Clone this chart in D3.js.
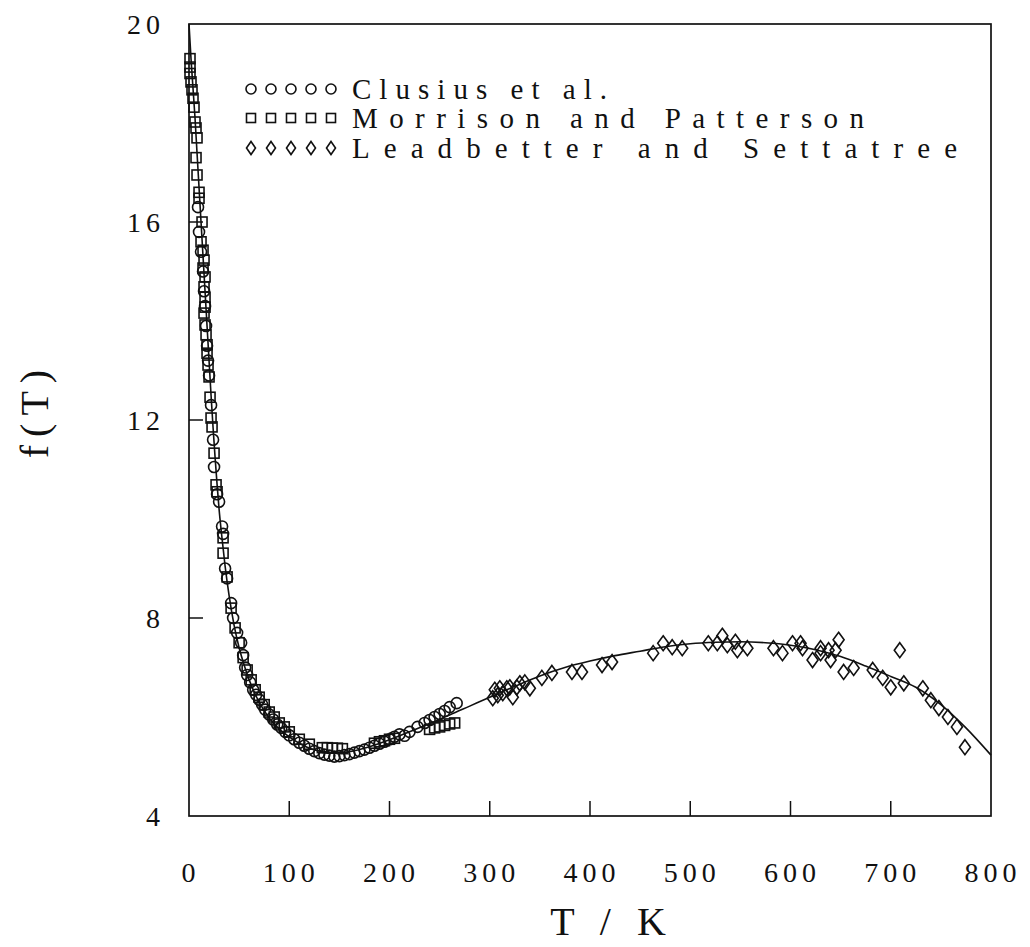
<!DOCTYPE html>
<html>
<head>
<meta charset="utf-8">
<script src="https://cdn.jsdelivr.net/npm/d3@7"></script>
<style>
  body { margin: 0; background: #fff; }
  text { font-family: "Liberation Serif", "DejaVu Serif", serif; fill: #111; }
</style>
</head>
<body>
<div id="chart"></div>
<script>
// fitted curve f(T)
const curve_T = [0, 2, 4, 6, 8, 10, 12, 14, 16, 18, 20, 22, 24, 26, 28, 30, 33, 36, 40, 45, 50, 55, 60, 70, 80, 90, 100, 110, 120, 130, 140, 150, 160, 180, 200, 220, 240, 260, 280, 300, 325, 350, 375, 400, 425, 450, 475, 500, 525, 550, 575, 600, 625, 650, 675, 700, 725, 750, 775, 800];
const curve_f = [20, 19.3, 18.7, 18.1, 17.4, 16.7, 16.0, 15.3, 14.6, 13.9, 13.2, 12.5, 11.85, 11.25, 10.7, 10.2, 9.6, 9.05, 8.45, 7.85, 7.4, 7.05, 6.75, 6.3, 5.98, 5.76, 5.6, 5.47, 5.37, 5.31, 5.28, 5.28, 5.3, 5.4, 5.54, 5.7, 5.87, 6.04, 6.22, 6.4, 6.62, 6.83, 7.0, 7.13, 7.24, 7.33, 7.42, 7.48, 7.51, 7.52, 7.5, 7.45, 7.36, 7.22, 7.03, 6.82, 6.6, 6.25, 5.78, 5.23];

// Clusius et al. (circles)
const clusius_T = [9, 10, 12, 14, 15, 16, 17, 18, 19, 20, 22, 24, 25, 28, 30, 33, 34, 36, 38, 42, 44, 48, 52, 54, 56, 58, 61, 64, 67, 70, 73, 76, 80, 84, 88, 92, 96, 100, 105, 110, 115, 120, 125, 130, 135, 140, 145, 150, 155, 160, 165, 170, 175, 180, 185, 190, 195, 200, 205, 210, 215, 220, 228, 235, 240, 245, 250, 255, 260, 267];
const clusius_f = [16.3, 15.8, 15.4, 15.0, 14.6, 14.3, 13.9, 13.5, 13.2, 12.9, 12.3, 11.6, 11.05, 10.5, 10.35, 9.85, 9.7, 9.0, 8.8, 8.3, 8.0, 7.7, 7.5, 7.25, 7.0, 6.85, 6.7, 6.55, 6.45, 6.35, 6.25, 6.15, 6.05, 5.95, 5.85, 5.78, 5.7, 5.63, 5.55, 5.48, 5.42, 5.36, 5.31, 5.27, 5.24, 5.22, 5.2, 5.21, 5.23, 5.25, 5.28, 5.31, 5.34, 5.38, 5.42, 5.46, 5.5, 5.55, 5.6, 5.65, 5.62, 5.7, 5.8, 5.88, 5.94, 6.0, 6.06, 6.12, 6.2, 6.28];

// Morrison and Patterson (squares)
const morrison_T = [1, 1, 1, 2, 3, 4, 5, 6, 7, 8, 7, 8, 10, 10, 13, 12, 14, 15, 14, 16, 15, 16, 16, 15, 16, 17, 18, 18, 19, 20, 21, 22, 23, 25, 27, 28, 34, 34, 38, 42, 46, 50, 54, 58, 62, 66, 70, 75, 80, 85, 90, 95, 100, 110, 120, 133, 138, 143, 148, 153, 185, 190, 195, 200, 205, 240, 245, 250, 255, 260, 265];
const morrison_f = [19.3, 19.13, 19.0, 18.83, 18.67, 18.5, 18.32, 18.02, 17.9, 17.7, 17.3, 16.95, 16.6, 16.48, 16.0, 15.6, 15.43, 15.23, 15.07, 14.89, 14.69, 14.48, 14.28, 14.16, 13.92, 13.72, 13.52, 13.35, 13.11, 12.87, 12.46, 12.04, 11.86, 11.33, 10.69, 10.55, 9.62, 9.31, 8.83, 8.2, 7.8, 7.5, 7.2, 6.95, 6.75, 6.55, 6.4, 6.25, 6.1, 6.0, 5.88, 5.8, 5.7, 5.55, 5.45, 5.38, 5.38, 5.37, 5.37, 5.36, 5.47, 5.5, 5.52, 5.55, 5.57, 5.75, 5.78, 5.8, 5.83, 5.86, 5.88];

// Leadbetter and Settatree (diamonds)
const leadbetter_T = [303, 305, 308, 310, 313, 317, 320, 323, 327, 330, 335, 340, 352, 362, 382, 392, 412, 422, 463, 473, 482, 492, 518, 527, 532, 537, 545, 547, 557, 583, 592, 602, 610, 612, 622, 630, 630, 638, 640, 645, 648, 653, 663, 682, 692, 700, 709, 713, 732, 740, 748, 757, 766, 774];
const leadbetter_f = [6.38, 6.55, 6.44, 6.58, 6.48, 6.58, 6.6, 6.4, 6.6, 6.68, 6.7, 6.58, 6.79, 6.89, 6.91, 6.91, 7.05, 7.11, 7.29, 7.49, 7.41, 7.39, 7.49, 7.49, 7.64, 7.45, 7.52, 7.35, 7.39, 7.39, 7.29, 7.49, 7.49, 7.39, 7.15, 7.39, 7.29, 7.35, 7.15, 7.35, 7.56, 6.91, 6.99, 6.95, 6.79, 6.6, 7.35, 6.68, 6.58, 6.34, 6.18, 6.0, 5.8, 5.39];

const x_ticks = [0, 100, 200, 300, 400, 500, 600, 700, 800];
const y_ticks = [4, 8, 12, 16, 20];
const legend_labels = ["Clusius et al.", "Morrison and Patterson", "Leadbetter and Settatree"];

const width = 1030, height = 947;
const svg = d3.select("#chart").append("svg")
    .attr("width", width)
    .attr("height", height);

const x = d3.scaleLinear().domain([0, 800]).range([189, 991]);
const y = d3.scaleLinear().domain([4, 20]).range([816, 24]);

const ink = "#111";

// frame
svg.append("rect")
    .attr("x", x(0)).attr("y", y(20))
    .attr("width", x(800) - x(0)).attr("height", y(4) - y(20))
    .attr("fill", "none").attr("stroke", ink).attr("stroke-width", 1.7);

// inward ticks
svg.append("g").selectAll("line")
    .data(x_ticks.slice(1, -1))
    .join("line")
    .attr("x1", d => x(d)).attr("x2", d => x(d))
    .attr("y1", y(4)).attr("y2", y(4) - 15)
    .attr("stroke", ink).attr("stroke-width", 1.5);

svg.append("g").selectAll("line")
    .data(y_ticks.slice(1, -1))
    .join("line")
    .attr("x1", x(0)).attr("x2", x(0) + 14)
    .attr("y1", d => y(d)).attr("y2", d => y(d))
    .attr("stroke", ink).attr("stroke-width", 1.5);

// tick labels
svg.append("g").selectAll("text")
    .data(x_ticks)
    .join("text")
    .attr("x", d => x(d) + 2)
    .attr("y", 882)
    .attr("text-anchor", "middle")
    .attr("font-size", 28)
    .attr("letter-spacing", 5)
    .text(d => d);

svg.append("g").selectAll("text")
    .data(y_ticks)
    .join("text")
    .attr("x", 165)
    .attr("y", d => y(d) + 10)
    .attr("text-anchor", "end")
    .attr("font-size", 28)
    .attr("letter-spacing", 5)
    .text(d => d);

// axis titles
svg.append("text")
    .attr("x", 612).attr("y", 935)
    .attr("text-anchor", "middle")
    .attr("font-size", 40)
    .attr("letter-spacing", 8)
    .text("T / K");

svg.append("text")
    .attr("transform", "translate(48,410) rotate(-90)")
    .attr("text-anchor", "middle")
    .attr("font-size", 40)
    .attr("letter-spacing", 8)
    .text("f(T)");

// fitted line
const line = d3.line()
    .x(d => x(d[0]))
    .y(d => y(d[1]))
    .curve(d3.curveMonotoneX);

svg.append("path")
    .datum(curve_T.map((t, i) => [t, curve_f[i]]))
    .attr("fill", "none")
    .attr("stroke", ink)
    .attr("stroke-width", 1.6)
    .attr("d", line);

// marker helpers
function circleAt(g, cx, cy, r) {
    g.append("circle").attr("cx", cx).attr("cy", cy).attr("r", r)
        .attr("fill", "none").attr("stroke", ink).attr("stroke-width", 1.6);
}
function squareAt(g, cx, cy, s) {
    g.append("rect").attr("x", cx - s / 2).attr("y", cy - s / 2)
        .attr("width", s).attr("height", s)
        .attr("fill", "none").attr("stroke", ink).attr("stroke-width", 1.6);
}
function diamondAt(g, cx, cy, w, h) {
    g.append("path")
        .attr("d", `M${cx},${cy - h / 2}L${cx + w / 2},${cy}L${cx},${cy + h / 2}L${cx - w / 2},${cy}Z`)
        .attr("fill", "none").attr("stroke", ink).attr("stroke-width", 1.6);
}

const pts = svg.append("g");
clusius_T.forEach((t, i) => circleAt(pts, x(t), y(clusius_f[i]), 5.5));
morrison_T.forEach((t, i) => squareAt(pts, x(t), y(morrison_f[i]), 10));
leadbetter_T.forEach((t, i) => diamondAt(pts, x(t), y(leadbetter_f[i]), 11, 15));

// legend
const legend = svg.append("g");
const rowY = [89, 118, 148];
const rowLen = [255, 512, 605];
const markX = [251, 271, 291, 311, 331];
legend_labels.forEach((lab, i) => {
    markX.forEach(mx => {
        if (i === 0) circleAt(legend, mx, rowY[i], 5);
        else if (i === 1) squareAt(legend, mx, rowY[i], 9);
        else diamondAt(legend, mx, rowY[i], 9, 13);
    });
    legend.append("text")
        .attr("x", 352).attr("y", rowY[i] + 10)
        .attr("font-size", 29)
        .attr("textLength", rowLen[i])
        .attr("lengthAdjust", "spacing")
        .text(lab);
});
</script>
</body>
</html>
